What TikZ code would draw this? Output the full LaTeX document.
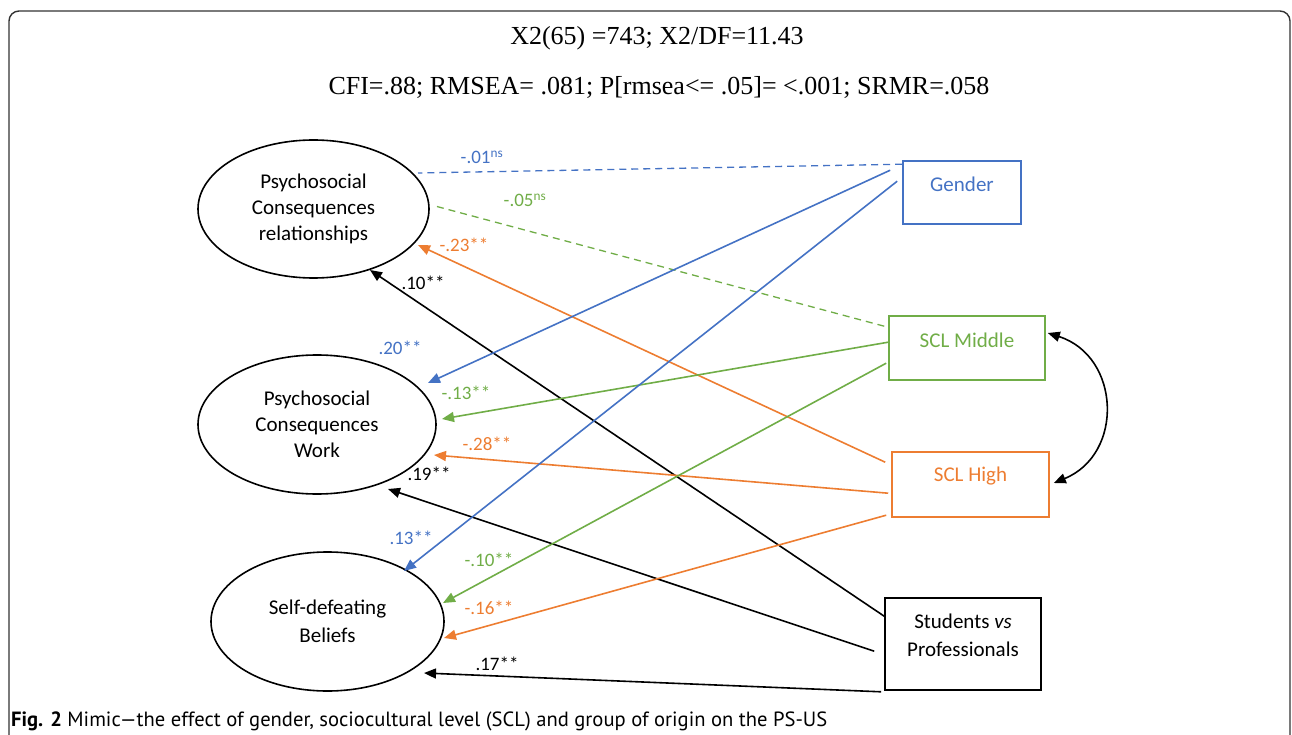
\documentclass[tikz,border=0pt]{standalone}
\usepackage{fontspec}
\setmainfont{Liberation Serif}
\newfontfamily\calfont{Carlito}
\newfontfamily\capfont{PT Sans}
\usetikzlibrary{shapes.geometric,arrows.meta,calc}
\definecolor{oblue}{HTML}{4472C4}
\definecolor{oorange}{HTML}{ED7D31}
\definecolor{ogreen}{HTML}{70AD47}
\definecolor{frame}{HTML}{333333}
\begin{document}
\begin{tikzpicture}[x=1pt,y=-1pt,
  lat/.style={ellipse,draw,line width=1.6pt,inner sep=0pt,align=center,font=\calfont\fontsize{21}{26}\selectfont},
  box/.style={draw,line width=1.6pt,inner sep=0pt},
  boxtxt/.style={font=\calfont\fontsize{21}{28}\selectfont,align=center,inner sep=0pt},
  pth/.style={line width=1.6pt,-{Triangle[length=12pt,width=10pt]}},
  dsh/.style={line width=1.3pt,dash pattern=on 7pt off 5pt},
  coef/.style={font=\calfont\fontsize{19}{21}\selectfont,inner sep=0pt},
  ttl/.style={font=\fontsize{26}{30}\selectfont,inner sep=0pt}
]
\useasboundingbox (0,0) rectangle (1292,735);
\draw[frame,line width=1.4pt,rounded corners=10pt] (9,11) rectangle (1290,800);

\node[ttl] (t1) at (657,38) {X2(65) =743; X2/DF=11.43};
\node[ttl] (t2) at (659,87) {CFI=.88; RMSEA= .081; P[rmsea<= .05]= <.001; SRMR=.058};

% latent variables
\node[lat,minimum width=231,minimum height=138] (e1) at (313.5,209) {Psychosocial\\Consequences\\relationships};
\node[lat,minimum width=238,minimum height=139] (e2) at (317,424.5) {Psychosocial\\Consequences\\Work};
\node[lat,minimum width=233,minimum height=139] (e3) at (327.5,621.5) {Self-defeating\\[2pt]Beliefs};

% observed variables
\node[box,draw=oblue,minimum width=118,minimum height=63] (gender) at (962,192.5) {};
\node[boxtxt,text=oblue] (gendert) at ($(gender.north)+(0,24)$) {Gender};
\node[box,draw=ogreen,minimum width=156,minimum height=64] (mid) at (967,348) {};
\node[boxtxt,text=ogreen] (midt) at ($(mid.north)+(0,25)$) {SCL Middle};
\node[box,draw=oorange,minimum width=157,minimum height=65] (high) at (970.5,484.5) {};
\node[boxtxt,text=oorange] (hight) at ($(high.north)+(0,25)$) {SCL High};
\node[box,draw=black,minimum width=156,minimum height=92] (stud) at (963,644) {};
\node[boxtxt] (studt) at ($(stud.north)+(0,38)$) {Students \textit{vs}\\Professionals};

% paths to e1
\draw[dsh,oblue] ($(gender.north west)+(0,4)$) -- ($(e1.center)+(104.5,-36)$);
\draw[dsh,ogreen] ($(mid.north west)+(-4,11)$) -- ($(e1.center)+(121.5,-3)$);
\draw[pth,oorange] ($(high.north west)+(-6,11)$) -- ($(e1.center)+(104.5,36)$);
\draw[pth,black] ($(stud.north west)+(0,19)$) -- ($(e1.center)+(56.5,61)$);
% paths to e2
\draw[pth,oblue] ($(gender.north west)+(-12,10)$) -- ($(e2.center)+(111,-41.5)$);
\draw[pth,ogreen] ($(mid.north west)+(0,27)$) -- ($(e2.center)+(125,-5.5)$);
\draw[pth,oorange] ($(high.north west)+(-3,42)$) -- ($(e2.center)+(117,30.5)$);
\draw[pth,black] ($(stud.north west)+(-10,54)$) -- ($(e2.center)+(71,64.5)$);
% paths to e3
\draw[pth,oblue] ($(gender.north west)+(-5,21)$) -- ($(e3.center)+(76.5,-50.5)$);
\draw[pth,ogreen] ($(mid.north west)+(-2,48)$) -- ($(e3.center)+(115.5,-18.5)$);
\draw[pth,oorange] ($(high.north west)+(-5,64)$) -- ($(e3.center)+(116.5,16.5)$);
\draw[pth,black] ($(stud.south west)+(-3,1)$) -- ($(e3.center)+(96.5,51.5)$);

% covariance
\draw[line width=1.6pt,{Triangle[length=12pt,width=10pt]}-{Triangle[length=12pt,width=10pt]}]
  ($(mid.east)+(2,-15)$) to[bend left=70,looseness=1.3] ($(high.east)+(4,-1.5)$);

% coefficients
\node[coef,text=oblue] (c1) at (482,157) {-.01\textsuperscript{ns}};
\node[coef,text=ogreen] (c2) at (525,200) {-.05\textsuperscript{ns}};
\node[coef,text=oorange] (c3) at (464,245) {-.23**};
\node[coef] (c4) at (423,283) {.10**};
\node[coef,text=oblue] (c5) at (400,348) {.20**};
\node[coef,text=ogreen] (c6) at (466,393) {-.13**};
\node[coef,text=oorange] (c7) at (487,444) {-.28**};
\node[coef] (c8) at (429,474) {.19**};
\node[coef,text=oblue] (c9) at (411,538) {.13**};
\node[coef,text=ogreen] (c10) at (489,560) {-.10**};
\node[coef,text=oorange] (c11) at (489,608) {-.16**};
\node[coef] (c12) at (497,664) {.17**};

% caption
\node[anchor=west,inner sep=0pt,font=\capfont\fontsize{20.6}{24}\selectfont] (cap) at (11,721)
  {\textbf{Fig. 2} Mimic—the effect of gender, sociocultural level (SCL) and group of origin on the PS-US};
\end{tikzpicture}
\end{document}
